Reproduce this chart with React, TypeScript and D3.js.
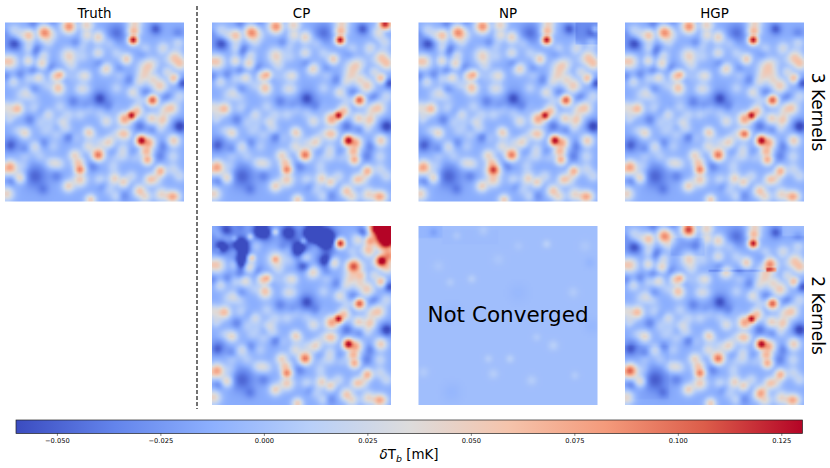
import React, { useMemo } from "react";
import * as d3 from "d3";

// Colour scale
const vMin = -0.06;
const vMax = 0.13;
const coolwarmStops = ["#3b4cc0", "#6384eb", "#8db0fe", "#b9d0f9", "#dddcdc", "#f5c4ac", "#f49a7b", "#dc5d4a", "#b40426"];
const colorbarTicks = [-0.05, -0.025, 0, 0.025, 0.05, 0.075, 0.1, 0.125];

// Blobs of the field: [u, v, amplitude in mK, width], u and v on a 0..538 panel grid
type Blob = number[];
const baseLevel = -0.014;
const truthWarm: Blob[] = [
  [118,30,.10,10],[72,39,.07,9],[192,12,.10,10],[245,8,.06,10],[247,37,.05,9],[280,44,.06,9],
  [385,52,.145,7],[387,25,.08,9],[390,2,.06,10],
  [15,117,.065,11],[0,117,.055,9],[70,115,.05,8],[112,122,.06,9],[115,100,.04,8],
  [192,100,.06,11],[165,157,.075,7],[153,160,.065,8],[100,165,.05,8],[303,139,.06,9],[365,110,.04,8],[243,160,.04,8],
  [425,137,.06,12],[435,127,.05,10],[420,157,.055,11],[465,190,.065,11],[507,167,.075,8],[510,107,.07,11],[525,122,.07,10],[475,77,.04,9],[445,172,.055,10],[490,150,.04,9],
  [383,210,.045,8],[443,233,.12,8],[500,257,.065,10],
  [380,279,.145,7],[360,290,.09,10],[395,267,.075,9],
  [37,259,.075,9],[160,200,.04,10],[360,335,.065,9],[250,329,.05,8],
  [410,355,.15,8],[430,362,.09,10],[425,387,.08,9],[428,412,.085,8],[507,355,.065,9],
  [280,398,.11,9],[210,400,.06,9],[225,442,.105,8],[225,472,.065,10],[220,422,.07,9],
  [15,435,.09,10],[0,442,.05,9],[467,446,.08,8],[330,469,.06,9],[355,480,.06,8],
  [405,507,.07,9],[420,522,.055,9],[500,524,.07,9],[257,533,.065,8],[5,515,.06,10],
];
const truthCool: Blob[] = [
  [90,462,-.035,24],[25,67,-.025,18],[90,82,-.02,14],[335,32,-.03,20],[285,232,-.025,20],[192,344,-.03,12],
  [525,312,-.05,14],[20,362,-.02,16],[405,312,-.025,12],[535,182,-.025,11],
  [85,2,-.02,12],[450,17,-.02,12],
];
const truthTroughU = [90,30,5,135,85,5,105,205,285,315,245,115,60,15,155,75,25,285,345,375,335,445,475,385,325,265,295,355,155,115,20,465,45,215,155,455,520,415,465,530,485,425,185,85,140];
const truthTroughV = [82,62,32,132,147,162,262,237,227,252,252,362,382,372,312,292,302,122,142,172,262,322,372,392,392,432,492,522,462,502,477,402,157,62,72,22,32,92,112,182,222,212,172,202,-8];
const truthTroughAmp = -0.02;
const truthTroughWidth = 12;
const truthPaleU = [
  60,25,225,135,190,435,45,475,305,465,310,250,130,75,280,5,160,65,330,140,440,95,355,20,175,250,200,345,420,30,520,505,470,330,60,130,230,400,310,165,
  25,160,225,243,280,365,75,60,435,190,45,475,305,250,310,130,0,190,105,45,225,85,165,85,405,335,285,440,475,145,35,15,100,65,165,185,325,355,390,505,380,285,150,105,55,335,455,525,515,465,525,315,235,155,45,15,145,465,335,190,70,125,5,85,155,260,320,340,285,210,120,
];
const truthPaleV = [
  332,177,200,422,492,472,467,292,297,317,362,372,277,77,92,252,185,205,260,310,290,370,380,295,300,260,130,155,80,20,60,440,510,400,400,60,70,180,500,425,
  177,200,160,200,92,110,77,332,472,492,467,292,297,372,362,277,252,277,300,217,277,377,302,222,232,197,272,287,262,372,322,292,257,217,252,322,432,402,402,402,462,472,422,402,432,522,472,462,522,522,222,62,102,72,37,27,37,112,92,167,167,187,272,257,337,337,347,332,362,347,327,
];
const truthPaleAmps = [
  .03,.02,.03,.024,.03,.03,.03,.03,.024,.03,.024,.024,.02,.024,.024,.02,.02,.02,.03,.02,.03,.024,.03,.018,.024,.024,.024,.024,.03,.018,.03,.03,.03,.024,.02,.024,.024,.03,.024,.024,
  .018,.02,.02,.024,.02,.024,.02,.024,.03,.03,.03,.03,.02,.02,.024,.018,.018,.024,.02,.018,.024,.02,.02,.02,.024,.024,.02,.03,.03,.02,.02,.018,.018,.02,.024,.024,.024,.024,.024,.03,.03,.03,.024,.02,.02,.03,.03,.03,.03,.03,.03,.02,.02,.018,.024,.018,.02,.03,.024,.024,.024,.02,.02,.018,.02,.02,.02,.024,.024,.018,.018,
];
const truthPaleWidth = 13;

// Per-panel differences from the truth
const cp3Warm: Blob[] = [[520,5,.14,9],[505,30,.055,10]];
const np3Warm: Blob[] = [[225,445,.095,11],[530,20,.035,5]];
const hgp3Warm: Blob[] = [[360,335,.09,7],[440,150,.05,10]];
const cp2Warm: Blob[] = [
  [525,25,.24,18],[495,5,.16,11],[475,45,.09,9],[510,105,.15,9],[530,90,.1,11],[425,120,.12,10],[470,70,.07,10],[440,40,.05,9],[445,150,.07,9],
];
const cp2Cool: Blob[] = [
  [85,60,-.085,20],[85,110,-.08,15],[150,20,-.09,18],[300,20,-.09,18],[340,40,-.09,22],[340,100,-.08,15],[260,70,-.08,18],[40,15,-.06,16],[230,20,-.06,17],[270,120,-.03,12],[30,60,-.03,14],
  [68,38,.035,7],[115,32,.05,7],[190,18,.05,7],[275,45,.04,7],[20,70,.03,7],[120,95,.04,7],[190,100,.03,7],
];
// top edge of the CP 2-kernel panel has lost the truth's warm spots left of u = 370
const cp2LostAbove = 70;
const cp2LostLeftOf = 370;
const hgp2Warm: Blob[] = [[435,114,.1,9],[190,10,.1,9],[15,435,.095,10],[410,500,.075,9]];
const np2Linear: Blob[] = [
  [385,54,.014,9],[115,29,.009,9],[160,159,.012,9],[405,359,.013,11],[275,399,.013,9],[210,399,.011,9],[225,444,.011,11],
  [340,464,.011,11],[355,334,.009,9],[470,449,.009,9],[15,439,.009,11],[195,14,.01,11],[95,169,.009,9],[465,199,.009,11],
  [300,60,.006,10],[60,120,.006,12],[500,60,.007,12],[240,100,.006,12],[100,500,-.005,20],
  [45,19,-.012,10],[515,110,-.006,11],[100,260,-.004,20],[300,200,-.004,20],[520,300,-.005,16],
];
// Flat offsets that show the patches: [u0, v0, u1, v1, offset]
const np3Patches: number[][] = [[472,0,538,65,-.018],[60,130,250,200,.002],[270,320,480,440,-.002]];
const hgp2Patches: number[][] = [[135,35,240,90,-.01],[425,125,455,137,.05],[250,130,425,137,-.02],[0,360,130,520,-.004],[470,0,538,30,.01]];
const np2Patches: number[][] = [[0,0,70,35,-.006],[70,10,240,55,-.002]];
const hgp3Patches: number[][] = [[0,0,130,130,-.002],[130,240,240,300,-.002]];

const panelSize = 179;
const gridN = 90;
const warmSpread = 1.55;
const warmPower = 2.5;
const truthPale: Blob[] = truthPaleU.map((u, i) => [u, truthPaleV[i], truthPaleAmps[i], truthPaleWidth]);
const truthTrough: Blob[] = truthTroughU.map((u, i) => [u, truthTroughV[i], truthTroughAmp, truthTroughWidth]);
const truthLinear = [...truthCool, ...truthTrough, ...truthPale];

const columns = ["Truth", "CP", "NP", "HGP"];
const columnX = [5, 212, 418.5, 625];
const rowY = [22.5, 226];
const rowLabels = ["3 Kernels", "2 Kernels"];

const none: number[][] = [];
const cp2TruthWarm = truthWarm.filter((b) => !(b[1] < cp2LostAbove && b[0] < cp2LostLeftOf) && !(b[0] === 387 || b[0] === 390));

const panels = [
  { col: 0, row: 0, base: baseLevel, warm: truthWarm, linear: truthLinear, patches: none },
  { col: 1, row: 0, base: baseLevel, warm: [...truthWarm, ...cp3Warm], linear: truthLinear, patches: none },
  { col: 2, row: 0, base: baseLevel, warm: [...truthWarm, ...np3Warm], linear: truthLinear, patches: np3Patches },
  { col: 3, row: 0, base: baseLevel, warm: [...truthWarm, ...hgp3Warm], linear: truthLinear, patches: hgp3Patches },
  { col: 1, row: 1, base: baseLevel, warm: [...cp2TruthWarm, ...cp2Warm], linear: [...truthLinear, ...cp2Cool], patches: none },
  { col: 2, row: 1, base: -0.002, warm: none, linear: np2Linear, patches: np2Patches },
  { col: 3, row: 1, base: baseLevel, warm: [...truthWarm, ...hgp2Warm], linear: truthLinear, patches: hgp2Patches },
];

const colorScale = d3
  .scaleLinear<string>()
  .domain(coolwarmStops.map((_, i) => vMin + ((vMax - vMin) * i) / (coolwarmStops.length - 1)))
  .range(coolwarmStops)
  .clamp(true);

const uScale = d3.scaleLinear().domain([0, gridN]).range([0, 538]);

function renderField(base: number, warm: Blob[], linear: Blob[], patches: number[][]): string {
  const canvas = document.createElement("canvas");
  canvas.width = gridN;
  canvas.height = gridN;
  const ctx = canvas.getContext("2d")!;
  for (let j = 0; j < gridN; j++) {
    for (let i = 0; i < gridN; i++) {
      const u = uScale(i + 0.5);
      const v = uScale(j + 0.5);
      let val = base;
      for (const [bu, bv, a, s] of linear) {
        const d2 = (u - bu) ** 2 + (v - bv) ** 2;
        if (d2 < 25 * s * s) val += a * Math.exp(-d2 / (2 * s * s));
      }
      let hot = 0;
      for (const [bu, bv, a, w] of warm) {
        const s = w * warmSpread;
        const d2 = (u - bu) ** 2 + (v - bv) ** 2;
        if (d2 < 25 * s * s) hot += Math.pow(a * Math.exp(-d2 / (2 * s * s)), warmPower);
      }
      val += Math.pow(hot, 1 / warmPower);
      for (const [u0, v0, u1, v1, off] of patches) {
        if (u >= u0 && u < u1 && v >= v0 && v < v1) val += off;
      }
      ctx.fillStyle = colorScale(val);
      ctx.fillRect(i, j, 1, 1);
    }
  }
  return canvas.toDataURL();
}

const font = "'DejaVu Sans', sans-serif";
const barLeft = 16;
const barRight = 802.5;
const barTop = 420;
const barBottom = 433.5;

export default function App() {
  const images = useMemo(() => panels.map((p) => renderField(p.base, p.warm, p.linear, p.patches)), []);
  const barScale = d3.scaleLinear().domain([vMin, vMax]).range([barLeft, barRight]);
  return (
    <svg width={830} height={468} style={{ position: "absolute", left: 0, top: 0 }} fontFamily={font}>
      <rect width={830} height={468} fill="#fff" />
      <defs>
        <linearGradient id="cw" x1="0" x2="1" y1="0" y2="0">
          {coolwarmStops.map((c, i) => (
            <stop key={i} offset={i / (coolwarmStops.length - 1)} stopColor={c} />
          ))}
        </linearGradient>
      </defs>
      {panels.map((p, i) => (
        <image key={i} href={images[i]} x={columnX[p.col]} y={rowY[p.row]} width={panelSize} height={panelSize} preserveAspectRatio="none" />
      ))}
      {columns.map((c, i) => (
        <text key={c} x={columnX[i] + panelSize / 2} y={18} textAnchor="middle" fontSize={13.4} fill="#000">{c}</text>
      ))}
      {rowLabels.map((c, i) => (
        <text key={c} transform={`translate(812,${rowY[i] + panelSize / 2}) rotate(90)`} textAnchor="middle" fontSize={17} fill="#000">{c}</text>
      ))}
      <text x={columnX[2] + panelSize / 2} y={322} textAnchor="middle" fontSize={21.5} fill="#000">Not Converged</text>
      <line x1={197} x2={197} y1={6} y2={409} stroke="#000" strokeWidth={1.1} strokeDasharray="4,2" />
      <rect x={barLeft} y={barTop} width={barRight - barLeft} height={barBottom - barTop} fill="url(#cw)" stroke="#222" strokeWidth={0.7} />
      {colorbarTicks.map((t) => (
        <g key={t}>
          <line x1={barScale(t)} x2={barScale(t)} y1={barBottom} y2={barBottom + 2.4} stroke="#000" strokeWidth={0.5} />
          <text x={barScale(t)} y={443} textAnchor="middle" fontSize={6.7} fill="#000">
            {(t < 0 ? "\u2212" : "") + Math.abs(t).toFixed(3)}
          </text>
        </g>
      ))}
      <text x={409} y={459} textAnchor="middle" fontSize={13.4} fill="#000">
        <tspan fontStyle="italic">δ</tspan>T<tspan dy={3} fontSize={9.4} fontStyle="italic">b</tspan>
        <tspan dy={-3}> [mK]</tspan>
      </text>
    </svg>
  );
}
